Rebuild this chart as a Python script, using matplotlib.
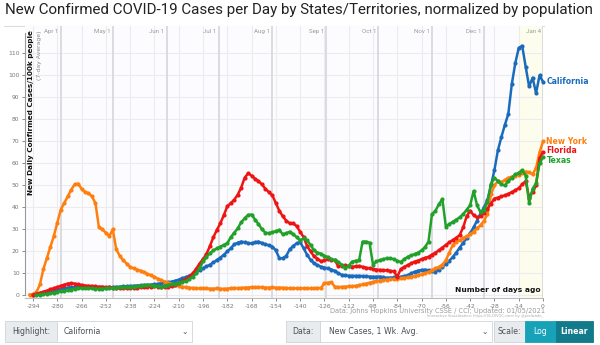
import numpy as np
import matplotlib
matplotlib.use("Agg")
import matplotlib.pyplot as plt
from matplotlib.patches import Rectangle

# ---- data: 7-day average new cases per 100k, every 2 days, day 0 = Jan 4 2021 ----
days = np.arange(-296, 1, 2)

new_york = [
    0.4, 0.6, 1.5, 5, 12, 17, 22, 27, 33, 39,
    42, 45, 48, 50.5, 50.8, 48.5, 47, 46.5, 45, 42,
    31, 30, 28.5, 27, 30, 21, 18, 16, 14.5, 13,
    12.3, 11.8, 11.3, 10.5, 9.8, 9.2, 8.5, 7.6, 7, 6.3,
    5.8, 5.3, 4.8, 4.3, 4.0, 3.8, 3.6, 3.4, 3.3, 3.2,
    3.2, 3.2, 3.1, 3.1, 3.2, 3.1, 3.0, 3.1, 3.3, 3.4,
    3.3, 3.4, 3.6, 3.6, 3.8, 3.7, 3.8, 3.7, 3.6, 3.6,
    3.7, 3.5, 3.6, 3.5, 3.4, 3.3, 3.3, 3.2, 3.2, 3.3,
    3.2, 3.2, 3.3, 3.4, 3.4, 5.6, 5.8, 6.0, 4.0, 3.8,
    3.9, 4.0, 4.1, 4.2, 4.4, 4.7, 5.0, 5.4, 5.8, 6.2,
    6.5, 6.8, 7.0, 7.2, 7.3, 7.5, 7.6, 7.8, 8.0, 8.2,
    8.5, 8.8, 9.2, 9.6, 10.2, 10.7, 11.5, 12.3, 13.0, 14.0,
    16.0, 19.5, 23.0, 24.2, 25.2, 26.0, 27.0, 27.8, 29.0, 30.5,
    32, 34, 37, 46, 50, 52, 51.5, 52.5, 53.5, 54,
    54.5, 54.8, 55.5, 56.3, 56, 55, 58, 65, 70,
]

florida = [
    np.nan, 0.3, 0.8, 1.2, 1.7, 2.2, 2.8, 3.3, 3.8, 4.4,
    4.9, 5.4, 5.6, 5.4, 5.0, 4.8, 4.5, 4.4, 4.3, 4.1,
    4.0, 4.0, 3.8, 3.7, 3.6, 3.4, 3.3, 3.2, 3.3, 3.3,
    3.4, 3.6, 3.7, 3.8, 4.0, 4.0, 4.1, 4.0, 4.0, 3.8,
    3.9, 4.2, 4.8, 5.6, 6.5, 7.3, 8.3, 10.0, 12.0, 14.5,
    16.5, 18.8, 22.5, 26.5, 29.8, 32.8, 36.5, 40.5, 42.0, 43.5,
    45.8, 49.0, 53.5, 55.5, 54.5, 53.0, 52.0, 50.5, 48.5, 47.0,
    45.5, 42.0, 38.5, 36.0, 34.0, 32.8, 32.8, 31.5, 29.0, 26.5,
    22.5, 20.0, 17.8, 16.8, 15.5, 16.0, 16.5, 16.3, 16.1, 13.2,
    13.5, 13.8, 13.3, 13.1, 13.2, 13.4, 13.0, 12.6, 12.4, 12.0,
    11.8, 11.6, 11.5, 11.4, 11.2, 11.0, 8.5, 12.0, 13.0, 13.8,
    14.6, 15.4, 15.9, 16.5, 17.1, 17.6, 18.6, 19.5, 20.5, 21.8,
    23.0, 24.2, 25.2, 26.2, 27.5, 31.0, 36.0, 38.5, 36.5, 35.5,
    36.0, 37.5, 39.5, 41.8, 44.0, 44.5, 45.0, 45.5, 46.2, 47.0,
    47.8, 48.8, 50.5, 52.0, 44.5, 47.2, 50.0, 62.5, 65.0,
]

texas = [
    np.nan, np.nan, 0.2, 0.4, 0.6, 0.8, 1.0, 1.3, 1.6, 1.9,
    2.1, 2.3, 2.7, 3.1, 3.3, 3.3, 3.3, 3.3, 3.2, 3.1,
    3.1, 3.1, 3.2, 3.3, 3.4, 3.6, 3.7, 3.8, 3.9, 4.0,
    4.0, 4.2, 4.4, 4.6, 4.7, 4.8, 4.5, 4.1, 4.0, 4.4,
    4.8, 5.1, 5.4, 5.7, 6.2, 6.5, 7.4, 8.5, 10.0, 12.5,
    15.5, 17.5, 19.2, 20.5, 21.4, 22.2, 23.0, 23.7, 26.5, 28.5,
    30.5, 33.2, 35.1, 36.6, 36.8, 34.5, 32.5, 30.0, 28.6, 28.3,
    28.8, 29.2, 29.8, 27.8, 28.3, 29.0, 27.8, 26.5, 25.0, 26.0,
    25.0, 23.0, 20.5, 19.5, 19.0, 18.0, 17.5, 16.5, 16.0, 15.2,
    14.0, 12.5, 13.5, 15.4, 15.8, 16.0, 24.5, 24.5, 24.0, 14.0,
    15.5, 16.1, 16.5, 16.9, 16.9, 16.5, 15.8, 15.2, 16.5, 17.6,
    18.2, 18.8, 19.5, 20.5, 22.0, 24.5, 37.0, 38.5, 41.5, 43.8,
    31.3, 32.5, 33.5, 34.5, 35.5, 37.0, 39.0, 41.0, 47.5, 41.0,
    37.8, 38.9, 42.5, 50.5, 53.5, 52.0, 50.5, 50.0, 52.0, 53.5,
    55.0, 55.8, 57.0, 54.5, 42.0, 48.5, 51.0, 60.0, 63.0,
]

california = [
    np.nan, 0.3, 0.6, 0.9, 1.3, 1.6, 2.0, 2.4, 2.7, 3.0,
    3.3, 3.5, 3.7, 3.8, 3.9, 3.9, 3.9, 3.8, 3.7, 3.7,
    3.6, 3.6, 3.6, 3.7, 3.8, 3.9, 4.0, 4.1, 4.2, 4.3,
    4.4, 4.5, 4.6, 4.7, 4.8, 4.9, 5.1, 5.3, 5.5, 5.8,
    6.0, 6.3, 6.7, 7.2, 7.8, 8.3, 9.0, 9.8, 10.8, 11.7,
    12.4, 13.2, 14.0, 15.0, 16.1, 17.2, 18.5, 20.0, 21.5, 23.2,
    24.0, 24.5, 24.2, 23.8, 23.7, 24.2, 24.5, 23.8, 23.2, 22.8,
    22.2, 20.5, 17.0, 16.9, 18.0, 21.0, 22.5, 23.7, 24.2, 21.5,
    18.5, 16.2, 14.6, 13.8, 13.1, 12.7, 12.3, 11.8, 11.2, 10.0,
    9.4, 9.1, 9.0, 8.9, 8.9, 8.9, 8.8, 8.7, 8.6, 8.5,
    8.5, 8.6, 8.3, 8.0, 8.1, 8.2, 8.3, 8.5, 8.8, 9.2,
    10.0, 10.8, 11.3, 11.6, 11.7, 11.5, 11.0, 10.9, 11.8, 13.0,
    14.3, 15.8, 17.5, 19.5, 21.8, 24.0, 26.0, 28.3, 31.0, 34.0,
    37.4, 40.0, 43.5, 50.0, 57.0, 66.0, 72.0, 77.5, 82.5, 96.0,
    105.5, 112.5, 113.5, 104.0, 95.0, 99.0, 92.0, 100.0, 97.2,
]

state_names = ["California", "New York", "Florida", "Texas"]
state_values = [california, new_york, florida, texas]
state_colors = ["#1b6bbd", "#ff7f0e", "#ee1414", "#21a12a"]
label_nudge = [0, 0, 1.5, -2.5]   # points, keeps end labels from colliding

x_ticks = list(range(-294, 1, 14))
y_ticks = list(range(0, 111, 10))
month_names = ["Apr 1", "May 1", "Jun 1", "Jul 1", "Aug 1", "Sep 1",
               "Oct 1", "Nov 1", "Dec 1", "Jan 4"]
month_dates = ["2020-04-01", "2020-05-01", "2020-06-01", "2020-07-01",
               "2020-08-01", "2020-09-01", "2020-10-01", "2020-11-01",
               "2020-12-01", "2021-01-04"]
day_zero = np.datetime64("2021-01-04")
month_days = [int((np.datetime64(d) - day_zero).astype(int)) for d in month_dates]

W, H = 600, 345
fig = plt.figure(figsize=(W / 100, H / 100), dpi=100)
fig.patch.set_facecolor("white")

# pixel-space overlay for page furniture
pg = fig.add_axes([0, 0, 1, 1], zorder=0)
pg.set_xlim(0, W)
pg.set_ylim(H, 0)
pg.axis("off")

# main plot
L, R, T, B = 25, 543, 26, 298
ax = fig.add_axes([L / W, 1 - B / H, (R - L) / W, (B - T) / H], zorder=1)
ax.set_facecolor("#fcfcfe")
ax.set_xlim(-298.6, 0)
ax.set_ylim(-1.14, 122.5)

# last-two-weeks shading
ax.axvspan(-14.3, 0, color="#fdfdee", zorder=0, lw=0)

# grid
for yv in y_ticks:
    ax.axhline(yv, color="#ebebf0", lw=0.8, zorder=0.5)
for xv in x_ticks:
    ax.axvline(xv, color="#ebebf0", lw=0.8, zorder=0.5)
for md in month_days:
    ax.axvline(md, color="#d6d6da", lw=1.2, zorder=0.6)

for sp in ["top", "right"]:
    ax.spines[sp].set_visible(False)
ax.spines["left"].set_color("#999999")
ax.spines["left"].set_linewidth(0.8)
ax.spines["left"].set_bounds(0, 119.3)
ax.spines["bottom"].set_color("#bbbbbb")
ax.spines["bottom"].set_linewidth(0.8)

ax.set_xticks(x_ticks)
ax.set_xticklabels([str(t) for t in x_ticks])
ax.set_yticks(y_ticks)
ax.set_yticklabels([str(t) for t in y_ticks])
ax.tick_params(axis="both", labelsize=4.3, colors="#777777", length=2.5,
               width=0.6, pad=1.5)

# top month labels
for name, md in zip(month_names, month_days):
    ax.text(md - 1.2, 121.3, name, ha="right", va="top", fontsize=4.4,
            color="#9a9a9a", family="Roboto")
pg.plot([4, 544], [26, 26], color="#dcdcdc", lw=0.8)

# series
for name, vals, col, nudge in zip(state_names, state_values, state_colors, label_nudge):
    ax.plot(days, vals, color=col, lw=1.8, marker="o", ms=3.0, mew=0,
            solid_joinstyle="round", zorder=3, clip_on=False)
    last = vals[-1]
    ax.annotate(name, xy=(days[-1], last), xytext=(2.5, nudge),
                textcoords="offset points", ha="left", va="center",
                fontsize=5.6, fontweight="bold", color=col,
                family="DejaVu Sans", annotation_clip=False)

# axis annotations
ax.text(-295.2, 120.5, "New Daily Confirmed Cases/100k people", rotation=90,
        ha="center", va="top", fontsize=5.2, fontweight="bold", color="#111111")
ax.text(-290.4, 120.5, "(7-day Average)", rotation=90, ha="center", va="top",
        fontsize=4.4, color="#888888")
ax.text(-1.5, 1.2, "Number of days ago", ha="right", va="bottom",
        fontsize=5.4, fontweight="bold", color="#111111")

# title
pg.text(5, 10, "New Confirmed COVID-19 Cases per Day by States/Territories, normalized by population",
        ha="left", va="center", fontsize=10.9, color="#222222", family="Roboto")

# source lines
pg.text(545, 310.5, "Data: Johns Hopkins University CSSE / CCI; Updated: 01/05/2021",
        ha="right", va="center", fontsize=4.8, color="#9a9a9a")
pg.text(543, 316.5, "Interactive Visualization: https://91-DIVOC.com/ by @profwade_",
        ha="right", va="center", fontsize=2.6, color="#aaaaaa")

# control bar
y0, y1 = 321, 342
def box(x0, x1, face, edge="#ced4da"):
    pg.add_patch(Rectangle((x0, y0), x1 - x0, y1 - y0, facecolor=face,
                           edgecolor=edge, lw=0.6))

box(5, 57, "#e9ecef")
box(57, 192, "white")
pg.text(31, 331.5, "Highlight:", ha="center", va="center", fontsize=5.6, color="#495057")
pg.text(64, 331.5, "California", ha="left", va="center", fontsize=5.6, color="#495057")
pg.text(185, 331, "\u2304", ha="center", va="center", fontsize=5.5, color="#495057")

box(286, 320, "#e9ecef")
box(320, 492, "white")
pg.text(303, 331.5, "Data:", ha="center", va="center", fontsize=5.6, color="#495057")
pg.text(329, 331.5, "New Cases, 1 Wk. Avg.", ha="left", va="center", fontsize=5.6, color="#495057")
pg.text(485, 331, "\u2304", ha="center", va="center", fontsize=5.5, color="#495057")

box(494, 525, "#e9ecef")
box(525, 556, "#17a2b8", edge="#17a2b8")
box(556, 593, "#117a8b", edge="#117a8b")
pg.text(509.5, 331.5, "Scale:", ha="center", va="center", fontsize=5.6, color="#495057")
pg.text(540.5, 331.5, "Log", ha="center", va="center", fontsize=5.6, color="white")
pg.text(574.5, 331.5, "Linear", ha="center", va="center", fontsize=5.6, color="white",
        fontweight="bold")

fig.savefig("out.png", dpi=100, facecolor="white")
